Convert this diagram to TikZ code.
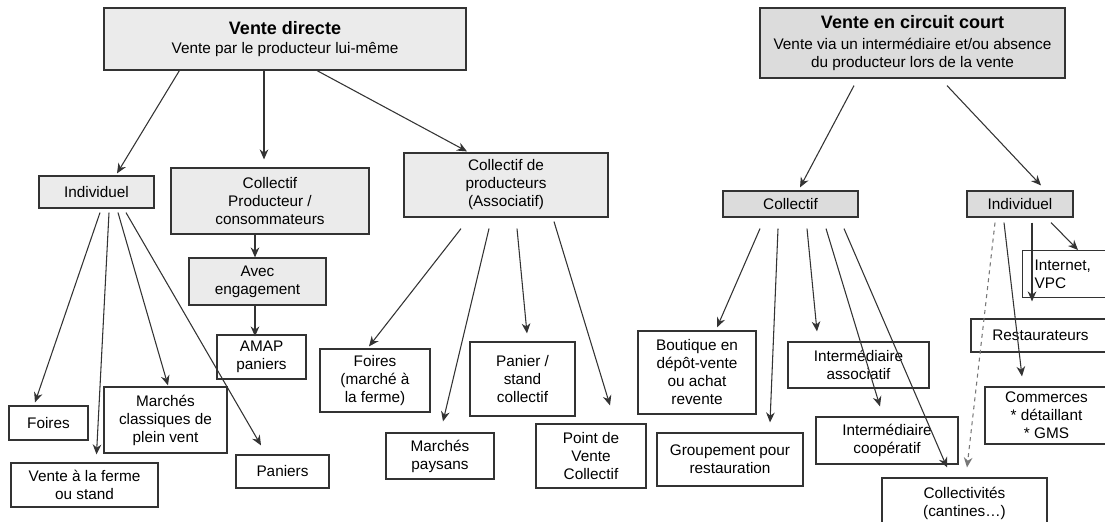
\documentclass[tikz,border=0pt]{standalone}
\usepackage{fontspec}
\setmainfont{Liberation Sans}
\usetikzlibrary{arrows.meta,calc}
\definecolor{boxgray}{HTML}{EBEBEB}
\definecolor{boxdark}{HTML}{DCDCDC}
\definecolor{linegray}{HTML}{333333}
\definecolor{dashgray}{HTML}{777777}
\newcommand\titlefont{\fontsize{13.5}{16}\selectfont\bfseries}
\newcommand\pxu{*0.75pt}
\tikzset{
  box/.style={draw=linegray, line width=0.9pt, align=center, inner sep=0pt,
    font=\fontsize{11.5}{13.5}\selectfont},
  graybox/.style={box, fill=boxgray},
  darkbox/.style={box, fill=boxdark},
  arr/.style={draw=linegray, line width=0.8pt, -{Stealth[length=7.5pt,width=6.5pt]}}
}

\begin{document}
\begin{tikzpicture}[x=0.75pt,y=-0.75pt]
  \useasboundingbox (0,0) rectangle (1105,521);

  % vente directe
  \node[graybox, minimum width=362\pxu, minimum height=62\pxu] (vd) at (285,39)
    {{\titlefont Vente directe}\\[1pt]Vente par le producteur lui-même};
  \node[graybox, minimum width=115\pxu, minimum height=32\pxu] (indL) at (96.5,192) {Individuel};
  \node[graybox, minimum width=198\pxu, minimum height=66\pxu] (cpc) at (270,201) {Collectif\\Producteur /\\consommateurs};
  \node[graybox, minimum width=204\pxu, minimum height=64\pxu] (cdp) at (506,185) {Collectif de\\producteurs\\(Associatif)};
  \node[graybox, minimum width=137\pxu, minimum height=47\pxu] (avec) at (257.5,281.5) {Avec\\engagement};
  \node[box, minimum width=89\pxu, minimum height=44\pxu] (amap) at (261.5,357) {AMAP\\paniers};
  \node[box, minimum width=79\pxu, minimum height=34\pxu] (foiresL) at (48.5,423) {Foires};
  \node[box, minimum width=123\pxu, minimum height=66\pxu] (marchesC) at (165.5,420) {Marchés\\classiques de\\plein vent};
  \node[box, minimum width=147\pxu, minimum height=44\pxu] (ferme) at (84.5,485) {Vente à la ferme\\ou stand};
  \node[box, minimum width=93\pxu, minimum height=33\pxu] (paniers) at (282.5,471.5) {Paniers};
  \node[box, minimum width=110\pxu, minimum height=63\pxu] (foiresM) at (375,380.5) {Foires\\(marché à\\la ferme)};
  \node[box, minimum width=108\pxu, minimum height=46\pxu] (marchesP) at (440,456) {Marchés\\paysans};
  \node[box, minimum width=105\pxu, minimum height=74\pxu] (panierS) at (522.5,379) {Panier /\\stand\\collectif};
  \node[box, minimum width=110\pxu, minimum height=64\pxu] (pvc) at (591,456) {Point de\\Vente\\Collectif};

  % vente en circuit court
  \node[darkbox, minimum width=305\pxu, minimum height=70\pxu] (vc) at (912.5,43)
    {{\titlefont Vente en circuit court}\\[2pt]Vente via un intermédiaire et/ou absence\\du producteur lors de la vente};
  \node[darkbox, minimum width=135\pxu, minimum height=26\pxu] (collR) at (790.5,204) {Collectif};
  \node[darkbox, minimum width=106\pxu, minimum height=26\pxu] (indR) at (1020,204) {Individuel};
  \node[box, minimum width=118\pxu, minimum height=83\pxu] (boutique) at (697,372.5) {Boutique en\\dépôt-vente\\ou achat\\revente};
  \node[box, minimum width=146\pxu, minimum height=53\pxu] (groupement) at (730,459.5) {Groupement pour\\restauration};
  \node[box, minimum width=141\pxu, minimum height=46\pxu] (interA) at (858.5,365) {Intermédiaire\\associatif};
  \node[box, minimum width=142\pxu, minimum height=47\pxu] (interC) at (887,440.5) {Intermédiaire\\coopératif};
  \node[box, minimum width=165\pxu, minimum height=50\pxu] (collectivites) at (964.5,503) {Collectivités\\(cantines…)};
  \node[box, anchor=north west, align=left, text width=48pt, inner xsep=9pt,
    minimum height=47\pxu] (inet) at (1022,250) {Internet,\\VPC};
  \node[box, minimum width=139\pxu, minimum height=33\pxu] (resto) at (1040.5,335.5) {Restaurateurs};
  \node[box, minimum width=123\pxu, minimum height=57\pxu] (commerces) at (1046.5,415.5) {Commerces\\* détaillant\\* GMS};

  \draw[arr] ($(vd.south west)+(76,0)$) -- ($(indL.north)+(20.5,-2)$);
  \draw[arr] ($(vd.south)+(-21,0)$) -- ($(cpc.north)+(-6,-8)$);
  \draw[arr] ($(vd.south)+(32,0)$) -- ($(cdp.north)+(-39,-1)$);
  \draw[arr] ($(cpc.south)+(-15,0)$) -- ($(avec.north)+(-2.5,0)$);
  \draw[arr] ($(avec.south)+(-2.5,0)$) -- ($(amap.north)+(-6.5,2)$);

  \draw[arr] ($(indL.south)+(3.5,4)$) -- ($(foiresL.north)+(-13.5,-3)$);
  \draw[arr] ($(indL.south)+(12.5,4)$) -- ($(ferme.north)+(12,-8)$);
  \draw[arr] ($(indL.south)+(21.5,4)$) -- ($(marchesC.north)+(2.5,-1)$);
  \draw[arr] ($(indL.south)+(29.5,4)$) -- ($(paniers.north)+(-21.5,-9)$);

  \draw[arr] ($(cdp.south)+(-45,11)$) -- ($(foiresM.north)+(-6,-2)$);
  \draw[arr] ($(cdp.south)+(-17,11)$) -- ($(marchesP.north)+(3,-11)$);
  \draw[arr] ($(cdp.south)+(11,11)$) -- ($(panierS.north)+(4.5,-8)$);
  \draw[arr] ($(cdp.south)+(48,4)$) -- ($(pvc.north)+(19,-18)$);

  \draw[arr] ($(vc.south)+(-58.5,7)$) -- ($(collR.north)+(9.5,-3)$);
  \draw[arr] ($(vc.south)+(34.5,7)$) -- ($(indR.north)+(21,-5)$);

  \draw[arr] ($(collR.south)+(-30.5,11)$) -- ($(boutique.north)+(20,-3)$);
  \draw[arr] ($(collR.south)+(-12.5,11)$) -- ($(groupement.north)+(40,-10)$);
  \draw[arr] ($(collR.south)+(16.5,11)$) -- ($(interA.north)+(-41.5,-10)$);
  \draw[arr] ($(collR.south)+(35.5,11)$) -- ($(interC.north)+(-7,-10)$);
  \draw[arr] ($(collR.south)+(53.5,11)$) -- ($(collectivites.north)+(-17.5,-10)$);

  \draw[arr, dashed, draw=dashgray] ($(indR.south)+(-25,5)$) -- ($(collectivites.north)+(2.5,-10)$);
  \draw[arr] ($(indR.south)+(-16,5)$) -- ($(commerces.north)+(-24.5,-10)$);
  \draw[arr] ($(indR.south)+(12,5)$) -- ($(resto.north)+(-8.5,-17)$);
  \draw[arr] ($(indR.south)+(31,5)$) -- ($(inet.north west)+(56,0)$);
\end{tikzpicture}
\end{document}
